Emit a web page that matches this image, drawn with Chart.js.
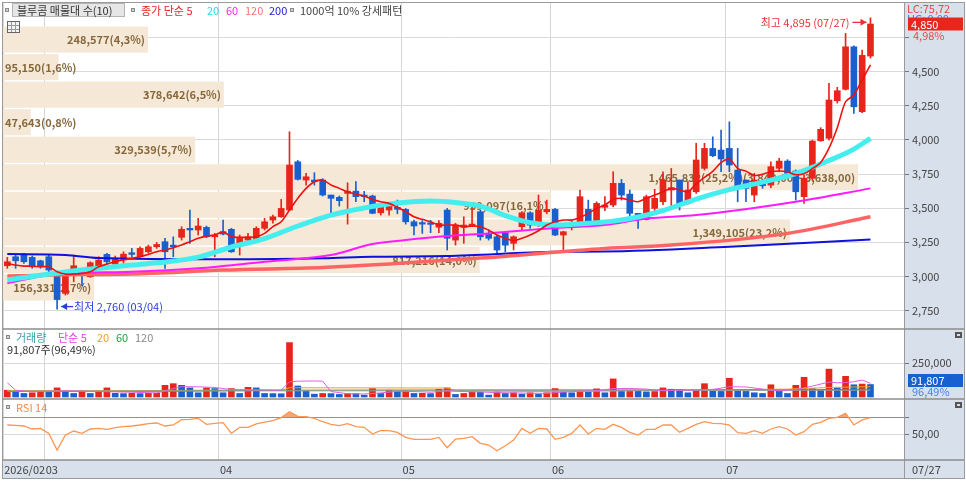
<!DOCTYPE html>
<html>
<head>
<meta charset="utf-8">
<title>블루콤 일봉</title>
<script src="https://cdn.jsdelivr.net/npm/chart.js"></script>
<style>
  html, body { margin: 0; padding: 0; background: #fff; }
  #chart { display: block; }
</style>
</head>
<body>
<canvas id="chart" width="966" height="481"></canvas>
<script>
// trading days shown on the chart (2026)
const dates = [
  '02/23','02/24','02/25','02/26','02/27',
  '03/03','03/04','03/05','03/06','03/09','03/10','03/11','03/12','03/13','03/16','03/17','03/18','03/19','03/20','03/23','03/24','03/25','03/26','03/27','03/30','03/31',
  '04/01','04/02','04/03','04/06','04/07','04/08','04/09','04/10','04/13','04/14','04/15','04/16','04/17','04/20','04/21','04/22','04/23','04/24','04/27','04/28','04/29','04/30',
  '05/04','05/06','05/07','05/08','05/11','05/12','05/13','05/14','05/15','05/18','05/19','05/20','05/21','05/22','05/26','05/27','05/28','05/29',
  '06/01','06/02','06/04','06/05','06/08','06/09','06/10','06/11','06/12','06/15','06/16','06/17','06/18','06/19','06/22','06/23','06/24','06/25','06/26','06/29','06/30',
  '07/01','07/02','07/03','07/06','07/07','07/08','07/09','07/10','07/13','07/14','07/15','07/16','07/20','07/21','07/22','07/23','07/24','07/27'
];

const opens = [3078,3144,3163,3139,3114,3144,3022,2875,3010,3051,
  2997,3070,3161,3090,3124,3173,3144,3180,3217,3254,
  3229,3286,3352,3340,3359,3290,3327,3345,3222,3266,
  3266,3352,3413,3437,3486,3840,3706,3706,3706,3596,
  3579,3608,3625,3596,3589,3466,3486,3506,3491,3400,
  3393,3391,3360,3486,3266,3359,3369,3474,3315,3290,
  3320,3242,3364,3466,3376,3474,3491,3303,3376,3400,
  3491,3389,3506,3523,3682,3603,3462,3417,3498,3547,
  3633,3706,3535,3620,3792,3938,3926,3938,3779,3706,
  3596,3682,3669,3792,3845,3772,3584,3719,3994,4012,
  4287,4371,4683,4207,4615];
const highs = [3139,3156,3169,3149,3119,3156,3034,3022,3156,3059,
  3107,3144,3169,3149,3180,3205,3217,3229,3249,3278,
  3290,3364,3486,3425,3369,3315,3413,3352,3303,3315,
  3364,3425,3449,3564,4060,3850,3755,3760,3716,3596,
  3589,3686,3694,3623,3596,3530,3525,3559,3498,3413,
  3408,3410,3408,3498,3389,3437,3510,3486,3340,3303,
  3330,3296,3474,3474,3596,3559,3498,3330,3413,3633,
  3559,3547,3584,3767,3711,3633,3462,3596,3638,3767,
  3791,3706,3694,3975,3975,4023,4073,4133,3938,3706,
  3755,3706,3840,3865,3855,3780,3743,3999,4090,4415,
  4386,4781,4690,4659,4895];
const lows = [3059,3059,3095,3059,3059,3034,2760,2863,2960,2931,
  2993,3059,3083,3070,3095,3144,3139,3169,3205,3059,
  3144,3266,3242,3303,3283,3144,3303,3176,3156,3261,
  3261,3340,3389,3432,3481,3706,3669,3669,3589,3466,
  3515,3383,3547,3547,3459,3449,3449,3459,3383,3303,
  3315,3320,3320,3193,3229,3242,3364,3266,3266,3173,
  3180,3193,3340,3352,3364,3459,3298,3193,3340,3389,
  3376,3381,3481,3510,3559,3437,3352,3413,3481,3525,
  3511,3486,3530,3608,3779,3877,3767,3767,3547,3547,
  3547,3645,3650,3767,3720,3559,3535,3706,3990,3999,
  4270,4366,4195,4200,4600];
const closes = [3107,3114,3107,3070,3078,3046,2830,3010,3078,3017,
  3100,3119,3107,3132,3163,3161,3205,3217,3234,3180,
  3217,3345,3340,3369,3290,3303,3310,3180,3278,3290,
  3352,3400,3437,3498,3816,3711,3730,3694,3596,3572,
  3555,3625,3584,3584,3462,3515,3515,3491,3400,3369,
  3383,3381,3389,3279,3376,3376,3383,3290,3279,3193,
  3229,3290,3466,3376,3486,3491,3303,3327,3389,3584,
  3400,3535,3523,3682,3596,3462,3432,3584,3572,3706,
  3650,3523,3633,3853,3938,3884,3860,3816,3645,3645,
  3706,3664,3804,3845,3755,3620,3719,3992,4078,4293,
  4361,4683,4243,4620,4850];

// 종가 단순 5 (every day) and the longer averages read at sample days
const ma5 = [3095,3083,3075,3075,3070,3070,3034,3017,3017,3022,
  3034,3070,3090,3107,3120,3132,3144,3161,3180,3193,
  3210,3230,3254,3279,3295,3303,3327,3290,3286,3286,
  3290,3315,3364,3400,3486,3572,3645,3694,3706,3670,
  3645,3620,3603,3589,3564,3547,3535,3506,3474,3437,
  3418,3400,3376,3376,3376,3364,3369,3364,3339,3303,
  3279,3261,3279,3303,3334,3376,3400,3413,3413,3432,
  3462,3498,3523,3564,3572,3559,3547,3572,3596,3620,
  3645,3633,3620,3680,3725,3770,3834,3860,3792,3770,
  3740,3748,3767,3772,3767,3745,3752,3790,3835,3940,
  4090,4280,4330,4440,4551];
const ma20Day = [1,8,16,20,24,28,32,36,40,44,48,52,55,58,61,64,67,71,74,77,80,84,88,92,96,100,103,105];
const ma20Val = [2973,3032,3083,3105,3141,3215,3277,3369,3449,3501,3537,3552,3541,3515,3446,3394,3376,3389,3405,3435,3482,3567,3636,3691,3754,3849,3933,4012];
const ma60Day = [1,7,16,24,32,40,45,49,54,59,67,73,78,84,96,105];
const ma60Val = [2950,3017,3034,3059,3107,3156,3237,3266,3295,3315,3354,3376,3424,3449,3547,3645];
const ma120Day = [1,6,16,27,39,47,53,58,73,81,95,105];
const ma120Val = [3002,3010,3017,3046,3065,3090,3115,3134,3205,3229,3315,3437];
const ma200Day = [1,8,12,27,39,45,54,67,73,88,105];
const ma200Val = [3163,3156,3134,3125,3132,3144,3149,3180,3182,3217,3271];

const volumes = [50000,38000,26000,31000,45000,43000,67000,45000,26000,45000,
  26000,45000,67000,27000,25000,27000,25000,27000,28000,86000,
  98000,86000,67000,31000,67000,62000,31000,62000,26000,71000,
  67000,26000,25000,24000,400000,81000,43000,21000,26000,25000,
  19000,26000,25000,14000,62000,26000,50000,43000,45000,26000,
  27000,25000,57000,67000,19000,26000,38000,36000,14000,38000,
  26000,31000,21000,31000,21000,31000,62000,38000,31000,45000,
  38000,60000,31000,133000,43000,45000,43000,38000,40000,67000,
  57000,55000,31000,50000,98000,43000,41000,138000,43000,41000,
  31000,26000,90000,45000,26000,86000,145000,62000,50000,205000,
  67000,152000,90000,95145,91807];
const vma5Day = [1,2,4,8,12,16,19,20,21,22,24,26,28,30,32,34,35,36,38,39,40,42,44,46,48,50,52,54,56,58,60,62,64,66,68,70,72,74,76,78,80,82,84,86,88,90,92,94,96,98,100,101,102,103,104,105];
const vma5Val = [105000,50000,38000,45000,40000,35000,30000,45000,62000,76000,75000,70000,55000,52000,52000,50000,112000,116000,118000,116000,40000,24000,22000,30000,42000,40000,35000,45000,40000,37000,32000,30000,28000,27000,36000,42000,45000,62000,63000,58000,46000,50000,52000,56000,75000,74000,58000,45000,55000,80000,110000,105000,106000,112000,125000,100000];
const vma20Day = [1,10,20,30,34,35,54,55,65,75,85,95,100,105];
const vma20Val = [48000,45000,48000,52000,50000,68000,66000,46000,40000,45000,52000,58000,70000,76000];
const vma60Day = [1,20,35,60,95,105];
const vma60Val = [40000,42000,50000,52000,52000,58000];
const vma120Day = [1,60,105];
const vma120Val = [44000,46000,50000];

const rsi14 = [60.8,60.4,59.6,56.0,56.8,50.8,30.8,48.8,53.6,50.8,
  56.0,56.8,55.6,57.6,58.8,59.6,60.8,62.4,63.2,59.6,
  60.8,67.2,67.6,68.8,61.6,62.8,63.6,50.8,58.0,58.0,
  62.0,64.3,66.0,69.6,76.7,71.2,70.8,68.8,64.7,61.6,
  60.0,62.4,58.8,58.0,50.0,54.4,54.0,52.0,46.0,43.6,
  43.6,43.6,46.0,33.6,44.0,44.8,46.8,38.8,36.8,30.0,
  36.0,42.8,56.8,50.8,56.8,56.0,43.6,46.0,50.8,60.8,
  50.0,56.8,55.6,61.6,58.0,52.0,48.8,55.6,55.6,60.8,
  60.8,52.0,56.8,61.6,64.7,62.8,62.4,60.8,51.6,50.8,
  54.0,50.8,56.0,58.8,56.0,48.8,52.8,61.6,64.0,68.8,
  70.0,74.8,60.8,66.8,69.6];

// 매물대 (10 price bands, top to bottom)
const vpLow = [4648,4446,4244,4042,3840,3638,3436,3234,3032,2830];
const vpStep = 202;
const vpVol = [248577,95150,378642,47643,329539,1465832,939097,1349105,817216,156331];
const vpPct = [4.3,1.6,6.5,0.8,5.7,25.2,16.1,23.2,14.0,2.7];

const priceTicks = [2750,3000,3250,3500,3750,4000,4250,4500,4750];
const volTicks = [250000];
const rsiTicks = [50,70];

const RED = '#e8251b', BLUE = '#1a5fce', PANEL = '#d7e0eb';
const FONT = "'Noto Sans CJK KR', 'Noto Sans', sans-serif";
Chart.defaults.font.family = FONT;
Chart.defaults.font.size = 11;

const fmt = v => Math.round(v).toLocaleString('en-US');
const dec = (v, d) => v.toFixed(d).replace('.', ',');

const day = closes.map((_, i) => i + 1);
const up = closes.map((c, i) => c >= opens[i]);
const candleColor = up.map(u => u ? RED : BLUE);
const volColor = volumes.map((v, i) => (i === 0 || v >= volumes[i - 1]) ? RED : BLUE);
const pts = (days, vals) => days.map((d, k) => ({x: d, y: vals[k]}));

// month boundaries for grid lines and date labels
const monthEdge = [0.5];
const monthName = ['2026/02'];
for (let i = 1; i < dates.length; i++) {
  if (dates[i].slice(0, 2) !== dates[i - 1].slice(0, 2)) {
    monthEdge.push(i + 0.5);
    monthName.push(dates[i].slice(0, 2));
  }
}

function text(ctx, s, x, y, color, font, align) {
  ctx.font = font || `11px ${FONT}`;
  ctx.fillStyle = color;
  ctx.textAlign = align || 'left';
  ctx.textBaseline = 'middle';
  ctx.fillText(s, x, y);
}
function dot(ctx, x, y) {
  ctx.fillStyle = '#d0d0d0';
  ctx.fillRect(x, y - 2, 4, 4);
  ctx.strokeStyle = '#8a8a8a';
  ctx.lineWidth = 1;
  ctx.strokeRect(x + 0.5, y - 1.5, 3, 3);
}
function arrow(ctx, x1, y, x2, color) {
  ctx.strokeStyle = color;
  ctx.lineWidth = 1.3;
  ctx.beginPath(); ctx.moveTo(x1, y); ctx.lineTo(x2, y); ctx.stroke();
  const d = x2 > x1 ? -1 : 1;
  ctx.fillStyle = color;
  ctx.beginPath();
  ctx.moveTo(x2, y); ctx.lineTo(x2 + d * 6, y - 3.5); ctx.lineTo(x2 + d * 6, y + 3.5);
  ctx.closePath(); ctx.fill();
}

// keep every axis from pushing the plot area in for its end labels
const noPad = s => { s.paddingTop = 0; s.paddingBottom = 0; s.paddingLeft = 0; s.paddingRight = 0; };

const overlay = {
  id: 'overlay',
  beforeDraw(chart) {
    const {ctx, chartArea: a, width: W, height: H} = chart;
    const xs = chart.scales.x;
    ctx.save();
    ctx.fillStyle = '#fff';
    ctx.fillRect(0, 0, W, H);
    ctx.fillStyle = PANEL;
    ctx.fillRect(a.right, a.top, W - 2 - a.right, xs.bottom - a.top);
    ctx.fillRect(a.left, a.bottom, a.right - a.left, xs.bottom - a.bottom);
    ctx.restore();
  },
  beforeDatasetsDraw(chart) {
    // 매물대 bands behind the candles
    const {ctx, chartArea: a} = chart;
    const ys = chart.scales.y, xv = chart.scales.xVp;
    const maxK = vpVol.indexOf(Math.max(...vpVol));
    const bold = `bold 11px ${FONT}`;
    ctx.save();
    vpLow.forEach((lo, k) => {
      const top = ys.getPixelForValue(lo + vpStep) + 2.5;
      const bot = ys.getPixelForValue(lo) + 1;
      const right = xv.getPixelForValue(vpVol[k]);
      ctx.fillStyle = '#f5e8d7';
      ctx.fillRect(a.left, top, right - a.left, bot - top);
      let s = `${fmt(vpVol[k])}(${dec(vpPct[k], 1)}%)`;
      if (k === maxK) s += `(${fmt(lo + vpStep)},00 ~ ${fmt(lo)},00)`;
      ctx.font = bold;
      const w = ctx.measureText(s).width;
      const tx = Math.max(right - 3, a.left + 2 + w);
      text(ctx, s, tx, (top + bot) / 2 + 0.5, '#86683b', bold, 'right');
    });
    ctx.restore();
  },
  afterDraw(chart) {
    const {ctx, chartArea: a, width: W} = chart;
    const xs = chart.scales.x, ys = chart.scales.y, yv = chart.scales.yVol, yr = chart.scales.yRsi;
    ctx.save();

    // panel frame
    ctx.strokeStyle = '#9a9a9a';
    ctx.lineWidth = 1;
    ctx.strokeRect(2.5, 2.5, W - 4, xs.bottom - 2);
    ctx.beginPath(); ctx.moveTo(a.right + 0.5, a.top); ctx.lineTo(a.right + 0.5, xs.bottom); ctx.stroke();
    ctx.strokeStyle = '#8c8c8c';
    ctx.lineWidth = 1.6;
    [yv.top, yr.top, a.bottom].forEach(y => {
      ctx.beginPath(); ctx.moveTo(a.left, y); ctx.lineTo(W - 2, y); ctx.stroke();
    });

    // top legend
    dot(ctx, 5, 10);
    ctx.fillStyle = '#e6e6e6';
    ctx.fillRect(12.5, 3.5, 112, 13);
    ctx.strokeStyle = '#b4b4b4'; ctx.lineWidth = 1;
    ctx.strokeRect(12.5, 3.5, 112, 13);
    text(ctx, '블루콤 매물대 수(10)', 17, 10.5, '#333');
    dot(ctx, 131, 10);
    text(ctx, '종가 단순 5', 141, 10.5, '#f02020');
    text(ctx, '20', 207, 10.5, '#20e0e0');
    text(ctx, '60', 226, 10.5, '#ff20ff');
    text(ctx, '120', 245, 10.5, '#ff7070');
    text(ctx, '200', 269, 10.5, '#2020e0');
    dot(ctx, 290, 10);
    text(ctx, '1000억 10% 강세패턴', 300, 10.5, '#444');
    // small table icon
    ctx.strokeStyle = '#666'; ctx.fillStyle = '#f4f4f4';
    ctx.fillRect(7.5, 21.5, 12, 11); ctx.strokeRect(7.5, 21.5, 12, 11);
    ctx.strokeStyle = '#999';
    ctx.beginPath();
    ctx.moveTo(8, 25.5); ctx.lineTo(19, 25.5); ctx.moveTo(8, 29.5); ctx.lineTo(19, 29.5);
    ctx.moveTo(11.5, 22); ctx.lineTo(11.5, 32); ctx.moveTo(15.5, 22); ctx.lineTo(15.5, 32);
    ctx.stroke();

    // volume legend
    const vy = yv.top + 8;
    dot(ctx, 6, vy);
    text(ctx, '거래량', 16, vy + 0.5, '#3aa0a8');
    text(ctx, '단순 5', 58, vy + 0.5, '#e040e0');
    text(ctx, '20', 97, vy + 0.5, '#f0a020');
    text(ctx, '60', 116, vy + 0.5, '#20a040');
    text(ctx, '120', 135, vy + 0.5, '#8a8a8a');
    const last = volumes.length - 1;
    const vr = volumes[last] / volumes[last - 1] * 100;
    text(ctx, `${fmt(volumes[last])}주(${dec(vr, 2)}%)`, 7, vy + 12.5, '#333');

    // RSI legend
    const ry = yr.top + 8;
    dot(ctx, 6, ry);
    text(ctx, 'RSI 14', 16, ry + 0.5, '#f58a45');

    // highest / lowest markers
    const hi = highs.indexOf(Math.max(...highs));
    const lo = lows.indexOf(Math.min(...lows));
    const hx = xs.getPixelForValue(hi + 1), hy = ys.getPixelForValue(highs[hi]);
    arrow(ctx, hx - 18, hy + 4.5, hx - 4, '#f03030');
    text(ctx, `최고 ${fmt(highs[hi])} (${dates[hi]})`, hx - 21, hy + 4.5, '#f03030', null, 'right');
    const lx = xs.getPixelForValue(lo + 1), ly = ys.getPixelForValue(lows[lo]);
    arrow(ctx, lx + 16, ly - 2.5, lx + 4, '#2a3ee0');
    text(ctx, `최저 ${fmt(lows[lo])} (${dates[lo]})`, lx + 17, ly - 2.5, '#2a3ee0');

    // right panel values
    const rx = a.right + 4;
    text(ctx, 'LC:75,72', rx - 1, 8.5, '#e84848');
    text(ctx, 'HC: 0,00', rx - 1, 19, '#4a7fe0');
    const cy = ys.getPixelForValue(closes[last]);
    ctx.fillStyle = '#e8261c';
    ctx.fillRect(rx, cy - 6.5, W - 3 - rx, 13);
    text(ctx, fmt(closes[last]), rx + 3, cy + 0.5, '#fff');
    const chg = (closes[last] / closes[last - 1] - 1) * 100;
    text(ctx, `${dec(chg, 2)}%`, rx + 5, cy + 12, '#e84848');

    const vby = yv.getPixelForValue(volumes[last]) - 4;
    ctx.fillStyle = '#1860d0';
    ctx.fillRect(rx, vby - 6.5, W - 3 - rx, 13);
    text(ctx, fmt(volumes[last]), rx + 3, vby + 0.5, '#fff');
    text(ctx, `${dec(vr, 2)}%`, rx + 4, vby + 11.5, '#4a82e0');

    // small panel icons
    [yv.top + 5, yr.top + 5].forEach(y => {
      ctx.fillStyle = '#555';
      ctx.fillRect(W - 11, y - 2, 7, 6);
      ctx.fillStyle = '#ddd';
      ctx.fillRect(W - 9, y, 3, 2);
    });

    text(ctx, dates[last], rx + 4, (a.bottom + xs.bottom) / 2 + 0.5, '#444');
    ctx.restore();
  }
};

const common = {pointRadius: 0, pointHoverRadius: 0, fill: false, xAxisID: 'x'};

new Chart(document.getElementById('chart'), {
  type: 'bar',
  data: {
    datasets: [
      {type: 'bar', label: 'wick', xAxisID: 'x', yAxisID: 'y', order: 20, grouped: false,
       data: day.map((d, i) => ({x: d, y: [lows[i], highs[i]]})),
       backgroundColor: candleColor, barThickness: 1},
      {type: 'bar', label: 'body', xAxisID: 'x', yAxisID: 'y', order: 19, grouped: false,
       data: day.map((d, i) => ({x: d, y: [opens[i], closes[i]]})),
       backgroundColor: candleColor, barThickness: 6, minBarLength: 1.5},
      {...common, type: 'line', label: '200', yAxisID: 'y', order: 8, data: pts(ma200Day, ma200Val),
       borderColor: '#1010dc', borderWidth: 2, cubicInterpolationMode: 'monotone'},
      {...common, type: 'line', label: '120', yAxisID: 'y', order: 7, data: pts(ma120Day, ma120Val),
       borderColor: '#ff6464', borderWidth: 3.5, cubicInterpolationMode: 'monotone'},
      {...common, type: 'line', label: '60', yAxisID: 'y', order: 6, data: pts(ma60Day, ma60Val),
       borderColor: '#ff1aff', borderWidth: 2, cubicInterpolationMode: 'monotone'},
      {...common, type: 'line', label: '20', yAxisID: 'y', order: 5, data: pts(ma20Day, ma20Val),
       borderColor: '#45eeee', borderWidth: 5, cubicInterpolationMode: 'monotone'},
      {...common, type: 'line', label: '5', yAxisID: 'y', order: 4, data: pts(day, ma5),
       borderColor: '#f01010', borderWidth: 1.6, tension: 0.3},

      {type: 'bar', label: 'volume', xAxisID: 'x', yAxisID: 'yVol', order: 20, grouped: false,
       data: day.map((d, i) => ({x: d, y: volumes[i]})),
       backgroundColor: volColor, barThickness: 6},
      {...common, type: 'line', label: 'v120', yAxisID: 'yVol', order: 3, data: pts(vma120Day, vma120Val),
       borderColor: '#9a9a9a', borderWidth: 1},
      {...common, type: 'line', label: 'v60', yAxisID: 'yVol', order: 3, data: pts(vma60Day, vma60Val),
       borderColor: '#2aa04a', borderWidth: 1},
      {...common, type: 'line', label: 'v20', yAxisID: 'yVol', order: 3, data: pts(vma20Day, vma20Val),
       borderColor: '#f0a020', borderWidth: 1},
      {...common, type: 'line', label: 'v5', yAxisID: 'yVol', order: 2, data: pts(vma5Day, vma5Val),
       borderColor: '#e060e0', borderWidth: 1},

      {...common, type: 'line', label: 'RSI', yAxisID: 'yRsi', order: 1, data: pts(day, rsi14),
       borderColor: '#ff9550', borderWidth: 1.3,
       fill: {target: {value: 70}, above: 'rgba(244,150,100,0.85)', below: 'rgba(0,0,0,0)'}}
    ]
  },
  options: {
    responsive: false,
    animation: false,
    events: [],
    layout: {padding: {left: 3, top: 3, right: 1, bottom: 3}},
    plugins: {legend: {display: false}, tooltip: {enabled: false}},
    scales: {
      x: {
        type: 'linear', position: 'bottom', min: 0.482, max: 109.04, offset: false,
        afterBuildTicks: s => { s.ticks = monthEdge.map(v => ({value: v})); },
        afterFit: s => { s.height = 18; noPad(s); },
        grid: {color: '#d6d6d6', drawTicks: false, offset: false},
        border: {display: false},
        ticks: {align: 'start', labelOffset: 1, padding: 3, autoSkip: false, maxRotation: 0,
                color: '#444', callback: v => monthName[monthEdge.indexOf(v)]}
      },
      // width scale of the 매물대 bars, laid out across the plot but drawn invisibly
      xVp: {
        type: 'linear', position: 'bottom', min: 0, max: 1544600, offset: false,
        afterFit: s => { s.height = 0; noPad(s); },
        grid: {display: false}, border: {display: false}, ticks: {display: false}
      },
      y: {
        type: 'linear', position: 'right', stack: 'panels', stackWeight: 326, min: 2614, max: 5004,
        afterBuildTicks: s => { s.ticks = priceTicks.map(v => ({value: v})); },
        afterFit: s => { s.width = 61; noPad(s); },
        grid: {color: '#dadada', tickLength: 5, tickColor: '#777'},
        border: {display: false},
        ticks: {padding: 3, color: '#444', callback: v => v === 4750 ? '' : fmt(v)}
      },
      yVol: {
        type: 'linear', position: 'right', stack: 'panels', stackWeight: 70, min: -14700, max: 500000,
        afterBuildTicks: s => { s.ticks = volTicks.map(v => ({value: v})); },
        afterFit: s => { s.width = 61; noPad(s); },
        grid: {color: '#dadada', tickLength: 5, tickColor: '#777'},
        border: {display: false},
        ticks: {padding: 3, color: '#444', callback: v => fmt(v)}
      },
      yRsi: {
        type: 'linear', position: 'right', stack: 'panels', stackWeight: 61, min: 18.9, max: 91.9,
        afterBuildTicks: s => { s.ticks = rsiTicks.map(v => ({value: v})); },
        afterFit: s => { s.width = 61; noPad(s); },
        grid: {color: c => (c.tick && c.tick.value === 70) ? '#8e8e8e' : '#dadada', tickLength: 5, tickColor: '#777'},
        border: {display: false},
        ticks: {padding: 3, color: '#444', callback: v => v === 50 ? dec(v, 2) : ''}
      }
    }
  },
  plugins: [overlay]
});
</script>
</body>
</html>
